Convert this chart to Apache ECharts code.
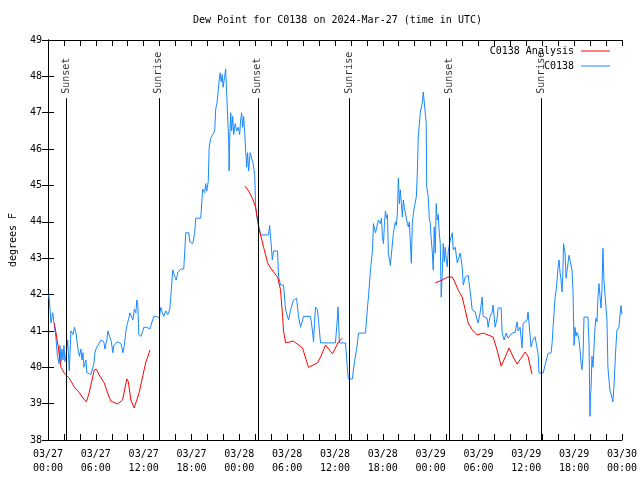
<!DOCTYPE html>
<html><head><meta charset="utf-8">
<script src="https://cdn.jsdelivr.net/npm/echarts@6/dist/echarts.min.js"></script>
<style>html,body{margin:0;padding:0;background:#fff}#c{width:640px;height:480px}</style>
</head><body><div id="c"></div>
<script>
// hours since 03/27 00:00 UTC, dew point (F)
const stationData = [
[0.09,42.0],[0.19,41.8],[0.38,41.22],[0.59,41.5],[0.79,41.16],[1.0,40.8],[1.19,40.3],[1.38,40.1],[1.5,40.6],[1.63,40.15],[1.75,40.5],[1.88,40.2],[2.0,40.6],[2.13,40.15],[2.25,40.3],[2.47,40.75],[2.67,39.9],[2.88,41.0],[3.13,40.9],[3.32,41.1],[3.51,40.95],[3.63,41.0],[3.76,40.5],[3.94,40.3],[4.13,40.5],[4.26,40.2],[4.38,40.4],[4.51,40.0],[4.76,40.2],[4.88,39.85],[5.13,39.9],[5.38,39.8],[5.63,39.85],[5.76,40.1],[5.89,40.4],[6.01,40.5],[6.26,40.6],[6.45,40.6],[6.64,40.75],[6.82,40.8],[7.01,40.7],[7.14,40.5],[7.39,40.75],[7.51,41.0],[7.76,40.95],[7.95,40.7],[8.14,40.4],[8.26,40.6],[8.51,40.55],[8.7,40.7],[8.89,40.7],[9.14,40.65],[9.27,40.55],[9.39,40.4],[9.58,40.6],[9.77,41.0],[9.95,41.2],[10.14,41.35],[10.27,41.5],[10.46,41.45],[10.64,41.3],[10.83,41.6],[11.02,41.5],[11.14,41.85],[11.27,41.7],[11.39,40.9],[11.65,40.85],[11.9,41.0],[12.02,41.1],[12.4,41.1],[12.77,41.05],[13.02,41.1],[13.27,41.4],[13.65,41.4],[13.96,41.35],[14.15,41.65],[14.34,41.5],[14.53,41.4],[14.78,41.55],[15.03,41.45],[15.28,41.6],[15.4,41.93],[15.65,42.68],[15.9,42.5],[16.09,42.4],[16.28,42.6],[16.65,42.7],[17.03,42.7],[17.28,43.7],[17.66,43.7],[17.78,43.45],[18.16,43.4],[18.41,43.7],[18.53,44.1],[19.16,44.1],[19.41,44.9],[19.66,44.8],[19.78,45.05],[19.91,44.85],[20.1,45.1],[20.22,46.05],[20.41,46.3],[20.66,46.4],[20.91,46.5],[21.04,47.1],[21.22,47.3],[21.35,47.6],[21.47,47.9],[21.6,48.1],[21.72,47.85],[21.85,48.05],[21.97,47.7],[22.1,47.9],[22.29,48.2],[22.54,48.2],[22.67,46.2],[22.72,45.4],[22.8,46.3],[22.92,47.0],[23.04,46.5],[23.17,46.9],[23.29,46.4],[23.48,46.7],[23.67,46.5],[23.86,46.6],[24.04,46.4],[24.17,46.8],[24.29,47.0],[24.42,46.6],[24.54,46.9],[24.67,46.45],[24.79,46.0],[24.92,45.5],[25.04,45.9],[25.17,45.4],[25.36,45.9],[25.55,45.75],[25.74,45.6],[25.93,45.3],[26.05,44.4],[26.23,44.1],[26.42,43.9],[26.67,43.64],[26.92,43.64],[27.67,43.64],[27.8,43.9],[27.99,43.4],[28.14,42.95],[28.3,43.2],[28.55,43.15],[28.8,43.2],[28.92,42.5],[29.17,42.26],[29.55,42.26],[29.8,41.58],[30.05,41.55],[30.18,41.3],[30.43,41.58],[30.68,41.55],[30.8,41.85],[31.18,41.9],[31.3,41.85],[31.43,41.4],[31.68,41.1],[31.93,41.1],[32.06,41.4],[32.93,41.4],[33.18,41.0],[33.31,40.7],[33.43,41.2],[33.56,41.65],[33.81,41.58],[33.93,41.55],[34.19,40.67],[36.06,40.67],[36.25,41.2],[36.38,41.66],[36.5,41.0],[36.56,40.67],[37.32,40.67],[37.57,39.93],[37.69,39.68],[38.19,39.68],[38.32,39.95],[38.57,39.95],[38.82,40.67],[38.95,40.94],[39.83,40.94],[40.08,41.66],[40.2,41.93],[40.45,42.67],[40.7,43.2],[40.83,43.95],[40.95,43.8],[41.08,43.7],[41.33,43.75],[41.45,44.05],[41.7,43.95],[41.83,44.1],[41.95,43.6],[42.08,43.4],[42.2,43.9],[42.33,44.3],[42.45,44.1],[42.58,44.2],[42.7,43.14],[42.95,42.8],[43.2,42.8],[43.33,43.7],[43.58,44.0],[43.7,43.9],[43.83,44.24],[43.95,45.2],[44.08,44.5],[44.2,44.88],[44.33,44.5],[44.45,44.13],[44.58,44.6],[44.7,44.4],[44.83,44.4],[44.95,44.1],[45.08,43.96],[45.2,43.86],[45.33,44.0],[45.45,44.05],[45.58,42.86],[45.7,43.96],[45.83,44.2],[45.95,44.4],[46.2,44.68],[46.33,45.34],[46.45,46.33],[46.7,47.0],[46.95,47.27],[47.08,47.57],[47.33,47.57],[47.45,46.7],[47.51,44.96],[47.7,44.7],[47.83,44.1],[47.95,43.96],[48.08,43.5],[48.2,43.2],[48.33,42.67],[48.45,43.86],[48.58,43.14],[48.7,44.5],[48.83,44.05],[48.95,44.2],[49.08,43.7],[49.21,43.4],[49.33,41.93],[49.46,42.6],[49.58,43.4],[49.71,42.9],[49.83,43.3],[49.96,42.95],[50.09,42.76],[50.21,43.2],[50.46,43.5],[50.71,43.7],[50.84,43.23],[51.09,43.3],[51.34,42.87],[51.46,42.95],[51.71,43.14],[51.96,42.76],[52.09,42.26],[52.34,42.48],[52.71,42.53],[52.96,42.1],[53.21,41.58],[53.59,41.52],[53.84,41.3],[53.96,41.22],[54.21,41.5],[54.46,41.93],[54.59,41.4],[55.09,41.35],[55.21,41.1],[55.46,41.4],[55.71,41.5],[55.84,41.71],[56.09,41.1],[56.34,41.35],[56.47,41.63],[56.85,41.63],[56.97,40.94],[57.22,40.75],[57.47,40.94],[57.72,40.8],[57.97,40.75],[58.22,40.94],[58.6,40.96],[58.85,41.25],[58.97,41.0],[59.22,41.1],[59.47,40.53],[59.6,41.2],[59.85,41.25],[60.1,41.3],[60.22,41.52],[60.35,41.2],[60.6,40.56],[60.72,40.67],[60.85,40.75],[61.1,40.84],[61.35,40.84],[61.48,40.38],[61.6,39.84],[62.11,39.84],[62.36,40.06],[62.61,40.28],[62.73,40.38],[63.11,40.4],[63.24,40.67],[63.36,41.1],[63.49,41.52],[63.61,41.93],[63.74,42.1],[63.86,42.4],[63.99,42.76],[64.11,42.95],[64.24,42.6],[64.36,42.4],[64.49,42.07],[64.61,42.76],[64.67,43.4],[64.86,43.14],[64.99,42.45],[65.24,42.45],[65.36,43.08],[65.61,43.03],[65.74,42.67],[65.86,42.07],[65.99,40.6],[66.11,41.1],[66.24,40.85],[66.36,40.96],[66.49,40.9],[66.61,40.75],[66.74,40.47],[66.87,40.11],[66.99,39.93],[67.12,40.34],[67.24,41.38],[67.74,41.38],[67.87,40.67],[67.99,38.65],[68.06,39.3],[68.12,39.36],[68.24,40.3],[68.37,40.0],[68.62,41.1],[68.74,41.35],[68.87,41.25],[68.99,41.93],[69.12,42.3],[69.37,41.63],[69.49,42.12],[69.62,43.27],[69.74,42.4],[69.87,42.0],[70.12,41.3],[70.24,40.0],[70.49,39.37],[70.74,39.18],[70.86,39.05],[70.99,39.46],[71.24,40.56],[71.37,41.02],[71.62,41.1],[71.87,41.7],[72.0,41.45]
];
const analysisSeg1 = [
[0.79,41.22],[1.21,40.67],[1.63,40.0],[2.04,39.84],[2.67,39.7],[3.29,39.46],[3.92,39.3],[4.51,39.12],[4.82,39.05],[5.17,39.3],[5.8,39.93],[6.07,39.95],[6.42,39.79],[7.05,39.57],[7.48,39.29],[7.89,39.07],[8.73,38.99],[9.35,39.1],[9.89,39.68],[10.08,39.6],[10.39,39.1],[10.81,38.88],[11.02,38.9],[11.43,39.3],[11.86,39.73],[12.27,40.14],[12.81,40.48]
];
const analysisSeg2 = [
[24.71,44.98],[25.17,44.85],[25.63,44.65],[25.8,44.62],[26.05,44.4],[26.26,44.1],[26.42,43.86],[26.67,43.64],[27.05,43.3],[27.55,42.87],[27.92,42.73],[28.3,42.62],[28.8,42.48],[29.17,42.13],[29.43,41.4],[29.55,41.0],[29.8,40.67],[30.8,40.72],[31.93,40.53],[32.68,40.0],[33.81,40.12],[34.19,40.28],[34.81,40.61],[35.69,40.37],[36.44,40.7],[36.94,40.8]
];
const analysisSeg3 = [
[48.58,42.32],[49.46,42.4],[49.84,42.45],[50.21,42.48],[50.71,42.48],[51.09,42.32],[51.46,42.12],[51.96,41.93],[52.34,41.58],[52.71,41.22],[53.21,41.03],[53.84,40.89],[54.59,40.94],[55.21,40.89],[55.84,40.83],[56.34,40.47],[56.85,40.03],[57.35,40.28],[57.85,40.53],[58.35,40.28],[58.85,40.09],[59.35,40.25],[59.85,40.42],[60.22,40.3],[60.72,39.81]
];
const sunNames = ['Sunset','Sunrise','Sunset','Sunrise','Sunset','Sunrise'];
const sunTimes = [2.29, 13.9, 26.33, 37.82, 50.38, 61.9];
const yTicks = [38,39,40,41,42,43,44,45,46,47,48,49];

const FONT = 'DejaVu Sans Mono';
const lineTopY = 47.4, labelY = 47.52;
function pad(n){return (n<10?'0':'')+n;}
function xFmt(v){
  if (v % 6 !== 0) return '';
  const day = 27 + Math.floor(v/24);
  return '03/' + day + '\n' + pad(v%24) + ':00';
}
const tickStyle = {show:true, inside:true, length:6, lineStyle:{color:'#000', width:1}};
const axLine = {show:true, lineStyle:{color:'#000', width:1}};
const BLUE = '#1a88ff';
const redSeries = [analysisSeg1, analysisSeg2, analysisSeg3].map(d => ({
  name:'C0138 Analysis', type:'line', data:d, showSymbol:false, symbol:'none',
  lineStyle:{color:'#ff0000', width:1}, itemStyle:{color:'#ff0000'}, z:3, silent:true
}));
const option = {
  animation:false,
  backgroundColor:'#fff',
  title:{text:'Dew Point for C0138 on 2024-Mar-27 (time in UTC)', left:188, top:10,
    textStyle:{fontFamily:FONT, fontSize:10, fontWeight:'normal', color:'#000'}},
  legend:[
    {data:['C0138 Analysis'], right:25, top:41, align:'right', icon:'rect', itemWidth:29, itemHeight:1,
      textStyle:{fontFamily:FONT, fontSize:10, color:'#000', padding:[0,2,0,0]}},
    {data:['C0138'], right:25, top:56, align:'right', icon:'rect', itemWidth:29, itemHeight:1,
      textStyle:{fontFamily:FONT, fontSize:10, color:'#000', padding:[0,2,0,0]}}
  ],
  grid:{left:47, right:18, top:40, bottom:40},
  xAxis:[
    {type:'value', min:0, max:72, interval:2, axisLine:axLine, axisTick:tickStyle, splitLine:{show:false},
      axisLabel:{formatter:xFmt, fontFamily:FONT, fontSize:10, color:'#000', margin:7, lineHeight:14, showMinLabel:true, showMaxLabel:true}},
    {type:'value', min:0, max:72, interval:2, position:'top', axisLine:axLine, axisTick:tickStyle, splitLine:{show:false}, axisLabel:{show:false}}
  ],
  yAxis:[
    {type:'value', min:38, max:49, interval:1, axisLine:axLine, axisTick:tickStyle, splitLine:{show:false},
      name:'degrees F', nameLocation:'middle', nameGap:30, nameRotate:90,
      nameTextStyle:{fontFamily:FONT, fontSize:10, color:'#000'},
      axisLabel:{fontFamily:FONT, fontSize:10, color:'#000', margin:6}},
    {type:'value', min:38, max:49, interval:1, position:'right', axisLine:axLine, axisTick:tickStyle, splitLine:{show:false}, axisLabel:{show:false}}
  ],
  series:[
    {name:'sun', type:'scatter', symbolSize:0, silent:true, z:1,
      data: sunTimes.map((t,i)=>({name:sunNames[i], value:[t, labelY]})),
      label:{show:true, formatter:p=>p.name, rotate:90, position:[0,0], align:'left', verticalAlign:'middle',
        fontFamily:FONT, fontSize:10, color:'#000'},
      markLine:{silent:true, symbol:'none', label:{show:false}, lineStyle:{color:'#000', width:1, type:'solid'},
        data: sunTimes.map(t=>[{coord:[t,38]},{coord:[t,lineTopY]}])}
    },
    ...redSeries,
    {name:'C0138', type:'line', data:stationData, showSymbol:false, symbol:'none',
      lineStyle:{color:BLUE, width:1}, itemStyle:{color:BLUE}, z:2, silent:true}
  ]
};
const chart = echarts.init(document.getElementById('c'), null, {renderer:'canvas'});
chart.setOption(option);
</script></body></html>
